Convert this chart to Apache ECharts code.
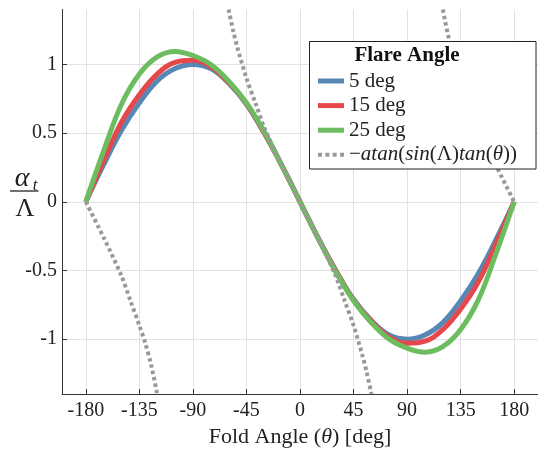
<!DOCTYPE html>
<html>
<head>
<meta charset="utf-8">
<script src="https://cdn.jsdelivr.net/npm/echarts@6/dist/echarts.min.js"></script>
<style>
  html, body { margin: 0; padding: 0; background: #fff; }
  #chart { width: 538px; height: 453px; }
</style>
</head>
<body>
<div id="chart"></div>
<script>
// Fold angle samples (deg)
const theta = [-180, -165, -150, -135, -120, -105, -90, -75, -60, -45, -30, -15, 0,
               15, 30, 45, 60, 75, 90, 105, 120, 135, 150, 165, 180];

// Normalised twist alpha_t / Lambda for each flare angle
const flare5 = [0, 0.27, 0.52, 0.72, 0.88, 0.97, 1.00, 0.97, 0.865, 0.71, 0.50, 0.26, 0,
                -0.26, -0.50, -0.71, -0.865, -0.97, -1.00, -0.97, -0.88, -0.72, -0.52, -0.27, 0];
const flare15 = [0, 0.30, 0.58, 0.78, 0.93, 1.015, 1.03, 0.985, 0.87, 0.715, 0.50, 0.26, 0,
                 -0.26, -0.50, -0.715, -0.87, -0.985, -1.03, -1.015, -0.93, -0.78, -0.58, -0.30, 0];
const flare25 = [0, 0.37, 0.71, 0.93, 1.055, 1.095, 1.065, 1.00, 0.88, 0.72, 0.51, 0.26, 0,
                 -0.26, -0.51, -0.72, -0.88, -1.00, -1.065, -1.095, -1.055, -0.93, -0.71, -0.37, 0];

// Reference curve -atan(sin(Lambda) tan(theta)), three branches split by null
const refTheta = [-180, -165, -150, -142.5, -135, -130, -125, -120, null,
                  -60, -56, -52.5, -45, -37.5, -30, -15, 0, 15, 30, 37.5, 45, 52.5, 56, 60, null,
                  120, 125, 130, 135, 142.5, 150, 165, 180];
const refValue = [0, -0.26, -0.54, -0.72, -0.90, -1.03, -1.19, -1.40, null,
                  1.40, 1.24, 1.12, 0.90, 0.72, 0.54, 0.26, 0, -0.26, -0.54, -0.72, -0.90, -1.12, -1.24, -1.40, null,
                  1.40, 1.19, 1.03, 0.90, 0.72, 0.54, 0.26, 0];

const xTicks = [-180, -135, -90, -45, 0, 45, 90, 135, 180];
const yTicks = [-1, -0.5, 0, 0.5, 1];

const seriesNames = ['5 deg', '15 deg', '25 deg', 'ref'];
const seriesColors = ['#5687b5', '#e5474b', '#6cbd60', '#999999'];

const FONT = 'Liberation Serif';
const DASH_ICON = 'path://M0,0h4v4h-4zM7.33,0h4v4h-4zM14.67,0h4v4h-4zM22,0h4v4h-4z';

function pairs(xs, ys) {
  return xs.map((x, i) => (x === null ? [null, null] : [x, ys[i]]));
}

const chart = echarts.init(document.getElementById('chart'), null, { renderer: 'canvas' });

const solid = [flare5, flare15, flare25].map((vals, i) => ({
  name: seriesNames[i],
  type: 'line',
  data: pairs(theta, vals),
  smooth: 0.4,
  symbol: 'none',
  lineStyle: { color: seriesColors[i], width: 5 },
  itemStyle: { color: seriesColors[i] },
  z: 2 + i
}));

const ref = {
  name: seriesNames[3],
  type: 'line',
  data: pairs(refTheta, refValue),
  connectNulls: false,
  smooth: 0.3,
  symbol: 'none',
  lineStyle: { color: seriesColors[3], width: 4, type: [3.5, 3], cap: 'butt' },
  itemStyle: { color: seriesColors[3] },
  z: 6
};

chart.setOption({
  animation: false,
  backgroundColor: '#fff',
  grid: { left: 62, top: 9.5, width: 481, height: 386.5, containLabel: false },
  xAxis: {
    type: 'value',
    min: -200,
    max: 200,
    name: '{r|Fold Angle (}{i|θ}{r|) [deg]}',
    nameLocation: 'middle',
    nameGap: 28,
    nameTextStyle: {
      rich: {
        r: { fontFamily: FONT, fontSize: 22, color: '#222' },
        i: { fontFamily: FONT, fontSize: 22, fontStyle: 'italic', color: '#222' }
      }
    },
    axisLine: { show: true, onZero: false, lineStyle: { color: '#333', width: 1 } },
    axisTick: { show: true, inside: true, length: 5, customValues: xTicks, lineStyle: { color: '#333' } },
    axisLabel: { customValues: xTicks, margin: 7, fontFamily: FONT, fontSize: 20, color: '#222' },
    splitLine: { show: true, lineStyle: { color: '#e2e2e2', width: 1 } }
  },
  yAxis: {
    type: 'value',
    min: -1.4,
    max: 1.4,
    axisLine: { show: true, onZero: false, lineStyle: { color: '#333', width: 1 } },
    axisTick: { show: true, inside: true, length: 5, customValues: yTicks, lineStyle: { color: '#333' } },
    axisLabel: { customValues: yTicks, margin: 5, fontFamily: FONT, fontSize: 20, color: '#222' },
    splitLine: { show: true, lineStyle: { color: '#e2e2e2', width: 1 } }
  },
  legend: {
    orient: 'vertical',
    left: 318,
    top: 70.5,
    padding: 0,
    itemWidth: 26,
    itemHeight: 5,
    itemGap: 3.6,
    data: [
      { name: seriesNames[0], icon: 'rect' },
      { name: seriesNames[1], icon: 'rect' },
      { name: seriesNames[2], icon: 'rect' },
      { name: seriesNames[3], icon: DASH_ICON }
    ],
    selectedMode: false,
    textStyle: {
      fontFamily: FONT, fontSize: 21, color: '#222', lineHeight: 20,
      rich: {
        u: { fontFamily: FONT, fontSize: 21, color: '#222' },
        i: { fontFamily: FONT, fontSize: 21, fontStyle: 'italic', color: '#222' }
      }
    },
    formatter: function (name) {
      if (name === 'ref') {
        return '{u|−}{i|atan}{u|(}{i|sin}{u|(Λ)}{i|tan}{u|(}{i|θ}{u|))}';
      }
      return name;
    },
    z: 10
  },
  graphic: [
    // legend frame and heading
    {
      type: 'rect', z: 9, silent: true,
      shape: { x: 309.5, y: 41.5, width: 226.5, height: 127.5 },
      style: { fill: '#fff', stroke: '#222', lineWidth: 1 }
    },
    {
      type: 'text', z: 11, silent: true, x: 407, y: 56,
      style: {
        text: 'Flare Angle', font: 'bold 21px "' + FONT + '"', fill: '#111',
        align: 'center', verticalAlign: 'middle'
      }
    },
    // y-axis label as a fraction alpha_t / Lambda
    {
      type: 'text', silent: true, x: 22, y: 179,
      style: { text: 'α', font: 'italic 28px "' + FONT + '"', fill: '#222', align: 'center', verticalAlign: 'middle' }
    },
    {
      type: 'text', silent: true, x: 35, y: 186,
      style: { text: 't', font: 'italic 17px "' + FONT + '"', fill: '#222', align: 'center', verticalAlign: 'middle' }
    },
    {
      type: 'line', silent: true,
      shape: { x1: 10, y1: 191, x2: 38.5, y2: 191 },
      style: { stroke: '#222', lineWidth: 1.3 }
    },
    {
      type: 'text', silent: true, x: 25, y: 209,
      style: { text: 'Λ', font: '26px "' + FONT + '"', fill: '#222', align: 'center', verticalAlign: 'middle' }
    }
  ],
  series: solid.concat([ref])
});
</script>
</body>
</html>
